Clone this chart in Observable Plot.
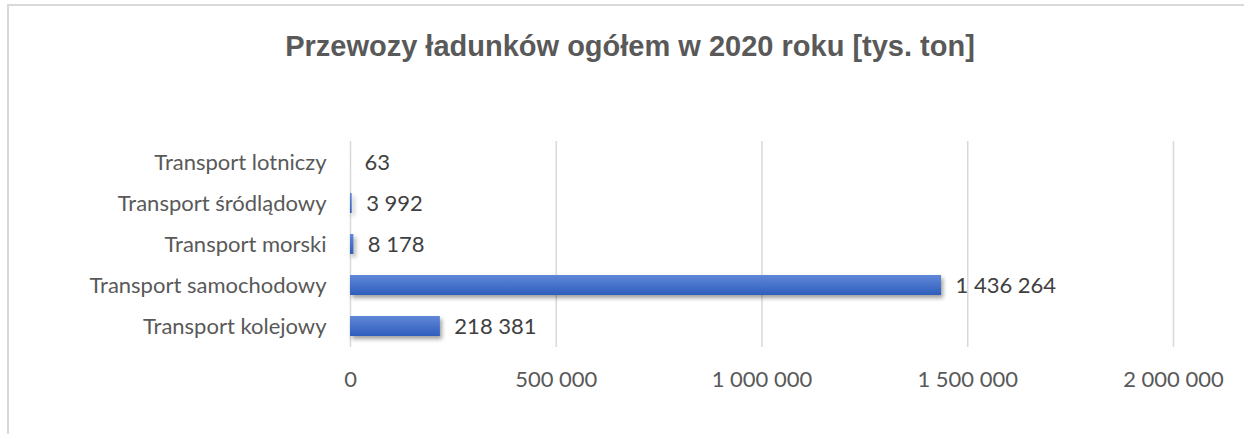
<!DOCTYPE html>
<html>
<head>
<meta charset="utf-8">
<script src="https://cdn.jsdelivr.net/npm/d3@7"></script>
<script src="https://cdn.jsdelivr.net/npm/@observablehq/plot@0.6"></script>
<style>
  html, body { margin: 0; padding: 0; background: #fff; }
  #wrap { position: relative; width: 1244px; height: 434px; overflow: hidden; }
  #frame { position: absolute; left: 7px; top: 4px; width: 1300px; height: 500px;
           border-left: 2px solid #d9d9d9; border-top: 2px solid #d9d9d9; box-sizing: border-box; }
  #title { position: relative; height: 100px; font-family: "Liberation Sans", Arial, sans-serif;
           font-weight: bold; font-size: 29px; color: #595959; text-align: center; line-height: 92px;
           padding-left: 16px; }
  #chart svg { display: block; }
  .bars { filter: drop-shadow(2px 3px 2px rgba(0,0,0,0.38)); }
</style>
</head>
<body>
<div id="wrap">
  <div id="frame"></div>
  <div id="title">Przewozy ładunków ogółem w 2020 roku [tys. ton]</div>
  <div id="chart"></div>
</div>
<script>
const categories = ["Transport lotniczy", "Transport śródlądowy", "Transport morski", "Transport samochodowy", "Transport kolejowy"];
const values = [63, 3992, 8178, 1436264, 218381];
const xTicks = [0, 500000, 1000000, 1500000, 2000000];

const data = categories.map((c, i) => ({category: c, value: values[i]}));
const fmt = d3.formatLocale({decimal: ",", thousands: " ", grouping: [3], currency: ["", ""]}).format(",d");

const plot = Plot.plot({
  width: 1244,
  height: 334,
  marginTop: 41,
  marginBottom: 87,
  marginLeft: 350,
  marginRight: 71,
  style: {fontFamily: "Lato, 'Open Sans', sans-serif", fontSize: "22px", color: "#595959", background: "transparent"},
  x: {domain: [0, 2000000], ticks: xTicks, tickFormat: fmt, label: null},
  y: {domain: categories, label: null, paddingInner: 0.52, paddingOuter: 0.26},
  marks: [
    Plot.ruleX(xTicks, {stroke: "#d9d9d9", strokeWidth: 1.5}),
    Plot.axisX({ticks: xTicks, tickFormat: fmt, tickSize: 0, tickPadding: 24, fill: "#595959", fontSize: 22}),
    Plot.axisY({tickSize: 0, tickPadding: 24, fill: "#595959", fontSize: 22}),
    Plot.barX(data, {x: "value", y: "category", fill: "url(#barGrad)", className: "bars"}),
    Plot.text(data, {x: "value", y: "category", text: d => fmt(d.value), dx: 14, textAnchor: "start", fill: "#404040", fontSize: 22})
  ]
});

const svg = d3.select(plot);
const defs = svg.insert("defs", ":first-child");
const g = defs.append("linearGradient").attr("id", "barGrad").attr("x1", 0).attr("y1", 0).attr("x2", 0).attr("y2", 1);
g.append("stop").attr("offset", "0%").attr("stop-color", "#6088d8");
g.append("stop").attr("offset", "100%").attr("stop-color", "#2e5dbc");

document.getElementById("chart").appendChild(plot);
</script>
</body>
</html>
